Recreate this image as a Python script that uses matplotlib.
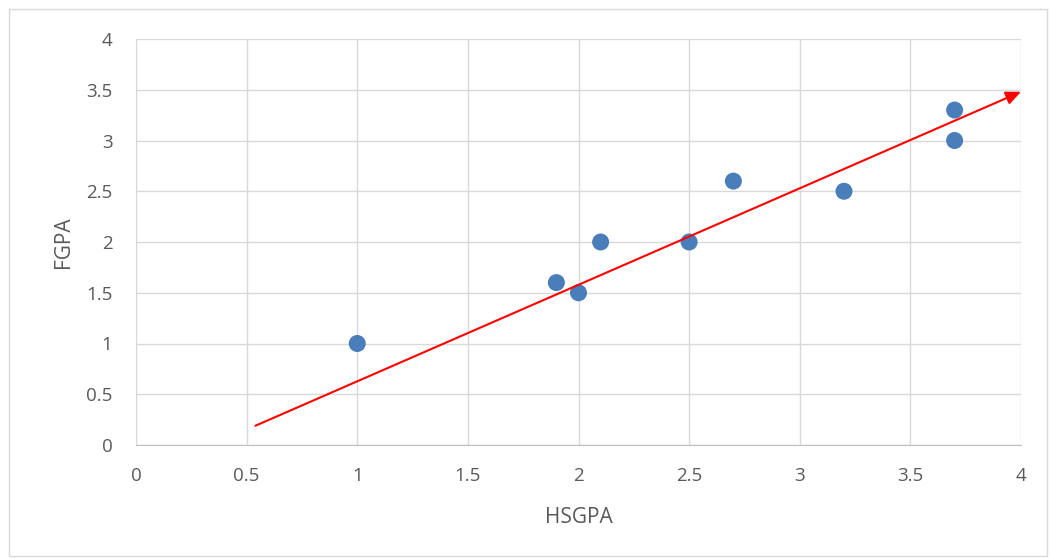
import matplotlib
matplotlib.use("Agg")
import matplotlib.pyplot as plt
from matplotlib.patches import Rectangle

hsgpa = [1.0, 1.9, 2.0, 2.1, 2.5, 2.7, 3.2, 3.7, 3.7]
fgpa = [1.0, 1.6, 1.5, 2.0, 2.0, 2.6, 2.5, 3.3, 3.0]
arrow_start = (0.54, 0.19)
arrow_end = (4.0, 3.48)
xticks = [0, 0.5, 1, 1.5, 2, 2.5, 3, 3.5, 4]
yticks = [0, 0.5, 1, 1.5, 2, 2.5, 3, 3.5, 4]

plt.rcParams['font.family'] = ['Open Sans', 'DejaVu Sans']

fig = plt.figure(figsize=(10.5, 5.59), dpi=100)
fig.patches.append(Rectangle((9/1050, 3/559), 1038/1050, 547/559, transform=fig.transFigure,
                             fill=False, edgecolor='#d9d9d9', linewidth=1))
ax = fig.add_axes([136/1050, 1-445/559, 885/1050, 406/559])

ax.scatter(hsgpa, fgpa, s=150, color='#4a7ebb', zorder=3, edgecolors='none')
ax.annotate('', xy=arrow_end, xytext=arrow_start,
            arrowprops=dict(arrowstyle='-|>,head_length=0.9,head_width=0.4', color='#ff0000',
                            lw=1.5, shrinkA=0, shrinkB=0), zorder=4)

ax.set_xlim(0, 4)
ax.set_ylim(0, 4)
ax.set_xticks(xticks)
ax.set_yticks(yticks)
ax.set_xticklabels([f"{t:g}" for t in xticks])
ax.set_yticklabels([f"{t:g}" for t in yticks])
ax.grid(True, color='#d9d9d9', linewidth=1)
ax.set_axisbelow(True)
for s in ['top', 'right']:
    ax.spines[s].set_visible(False)
ax.spines['left'].set_color('#d9d9d9')
ax.spines['bottom'].set_color('#bfbfbf')
ax.tick_params(length=0, labelsize=13.5, labelcolor='#595959')
ax.tick_params(axis='x', pad=16)
ax.tick_params(axis='y', pad=17)
ax.set_xlabel('HSGPA', fontsize=15, color='#595959', labelpad=16)
ax.set_ylabel('FGPA', fontsize=15, color='#595959', labelpad=9)

fig.savefig('out.png', dpi=100)
